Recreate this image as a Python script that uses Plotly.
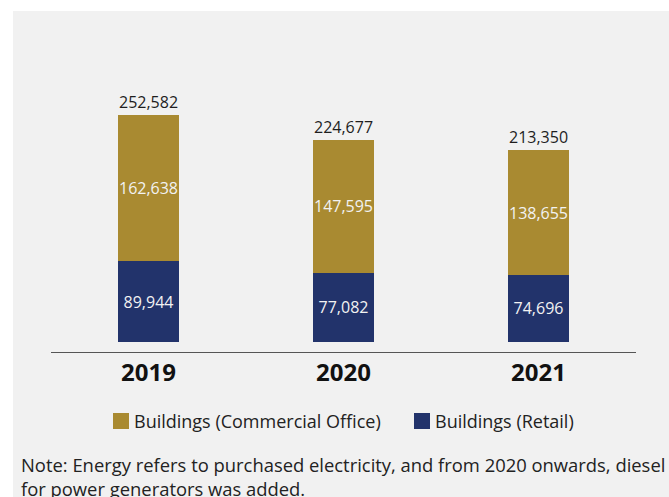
import plotly.graph_objects as go

# Energy consumption by building type
years = ["2019", "2020", "2021"]
retail = [89944, 77082, 74696]
commercial_office = [162638, 147595, 138655]
totals = [252582, 224677, 213350]

note_lines = [
    "Note: Energy refers to purchased electricity, and from 2020 onwards, diesel",
    "for power generators was added.",
]

GOLD = "#a98a31"
NAVY = "#22336b"
BG = "#f1f1f1"
FONT = "Open Sans"

W, H = 669, 497
L, R, T, B = 51, 33, 20, 145
PW, PH = W - L - R, H - T - B


def px_x(px):
    return (px - L) / PW


def px_y(py):
    return (H - B - py) / PH


fig = go.Figure()

for vals, name, color in [(retail, "Buildings (Retail)", NAVY),
                          (commercial_office, "Buildings (Commercial Office)", GOLD)]:
    fig.add_trace(go.Bar(
        x=years, y=vals, name=name,
        marker=dict(color=color, line=dict(width=0)),
        text=[f"{v:,}" for v in vals], textposition="inside",
        insidetextanchor="middle", textangle=0, constraintext="none",
        textfont=dict(family=FONT, size=16, color="#f2f2f2"),
        width=0.313, showlegend=False,
    ))

annotations = []
# totals above each stack
for i, tot in enumerate(totals):
    annotations.append(dict(
        x=i, y=tot, xref="x", yref="y", text=f"{tot:,}", showarrow=False,
        yanchor="bottom", yshift=0,
        font=dict(family=FONT, size=16, color="#1e1e1e"),
    ))

# legend
legend_items = [("Buildings (Commercial Office)", GOLD, 113),
                ("Buildings (Retail)", NAVY, 414)]
shapes = [dict(
    type="rect", xref="paper", yref="paper", layer="below",
    x0=px_x(13), x1=px_x(W + 20), y0=px_y(H + 20), y1=px_y(11),
    fillcolor=BG, line=dict(width=0),
)]
for label, color, x0 in legend_items:
    shapes.append(dict(
        type="rect", xref="paper", yref="paper",
        x0=px_x(x0), x1=px_x(x0 + 16), y0=px_y(429), y1=px_y(413),
        fillcolor=color, line=dict(width=0),
    ))
    annotations.append(dict(
        x=px_x(x0 + 19), y=px_y(421), xref="paper", yref="paper",
        text=label, showarrow=False, xanchor="left", yanchor="middle",
        font=dict(family=FONT, size=18, color="#222222"),
    ))

# footnote
annotations.append(dict(
    x=px_x(19), y=px_y(476), xref="paper", yref="paper",
    text="<br>".join(note_lines), showarrow=False,
    xanchor="left", yanchor="middle", align="left",
    font=dict(family=FONT, size=18.4, color="#222222"),
))

k = 227 / 252582  # pixels per unit
fig.update_layout(
    width=W, height=H,
    margin=dict(l=L, r=R, t=T, b=B, pad=0),
    barmode="stack",
    paper_bgcolor="white",
    plot_bgcolor="rgba(0,0,0,0)",
    shapes=shapes,
    annotations=annotations,
    showlegend=False,
    xaxis=dict(
        type="category",
        range=[-0.5, 2.5], showline=True, linecolor="#555555", linewidth=1,
        ticks="", ticklabelstandoff=-1,
        tickfont=dict(family=FONT, size=24, color="#111111", weight="bold"),
        showgrid=False, zeroline=False, fixedrange=True,
    ),
    yaxis=dict(
        range=[-10 / k, (H - B - 10 - T) / k], visible=False,
        showgrid=False, zeroline=False,
    ),
)

fig.write_html("out.html")
